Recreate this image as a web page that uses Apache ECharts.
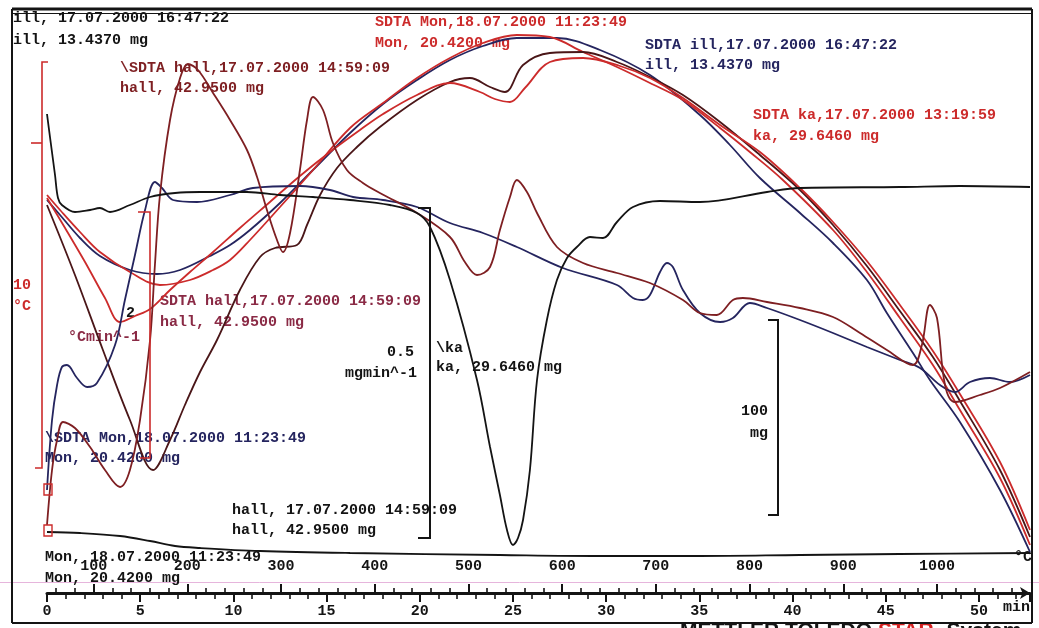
<!DOCTYPE html>
<html><head><meta charset="utf-8">
<script src="https://cdn.jsdelivr.net/npm/echarts@6/dist/echarts.min.js"></script>
<style>html,body{margin:0;padding:0;background:#fff;overflow:hidden}#c{width:1039px;height:628px}</style>
</head><body><div id="c"></div>
<script>
// x: time in minutes; y: signal height in arbitrary plot units (no numeric y axis in source)
const minuteLabels = [0,5,10,15,20,25,30,35,40,45,50];
const tempLabels = [100,200,300,400,500,600,700,800,900,1000];
const tempMinorTicks = [60,80,120,140,160,180,220,240,260,280,320,340,360,380,420,440,460,480,520,540,560,580,620,640,660,680,720,740,760,780,820,840,860,880,920,940,960,980,1020,1040,1060,1080];

const sdtaMon = [[0,39.8],[0.7,38.3],[1.77,36.1],[2.84,34.1],[4.45,32.1],[6.06,30.8],[7.67,31.3],[8.91,32.3],[9.82,33.3],[10.89,35.3],[12.5,38.6],[14.27,42.3],[16.26,46.5],[18.03,49.0],[19.85,51.5],[21.62,53.5],[23.39,55.0],[25.21,55.8],[26.98,55.6],[28.76,54.1],[30.58,52.6],[32.35,51.0],[34.12,49.3],[36.11,46.5],[37.71,44.1],[39.48,41.3],[42.17,36.3],[43.99,32.1],[45.76,27.5],[47.53,22.8],[48.98,18.3],[51.13,11.5],[52.74,4.8]];
const sdtaIll = [[0,39.3],[0.7,37.8],[1.77,35.5],[2.84,33.7],[4.45,32.3],[5.9,31.9],[7.14,32.3],[8.74,33.7],[9.82,34.8],[10.89,36.3],[12.5,39.0],[14.27,42.3],[16.26,46.0],[18.03,48.9],[19.85,51.3],[21.62,53.3],[23.39,54.7],[25.21,55.5],[27.36,55.5],[29.67,54.3],[32.35,51.8],[35.03,47.8],[36.64,44.8],[38.25,41.5],[40.4,38.0],[42.17,35.0],[43.99,31.3],[45.06,28.0],[46.46,24.0],[47.37,21.3],[48.98,17.1],[51.13,10.3],[52.74,4.1]];
const sdtaHall = [[0,38.8],[1.5,31.8],[3.0,24.3],[4.45,17.3],[5.69,12.3],[6.6,15.3],[7.4,18.8],[8.21,22.1],[9.12,25.3],[10.35,30.3],[11.43,33.6],[12.23,34.5],[13.41,34.8],[13.95,36.8],[14.65,39.8],[15.56,42.5],[16.63,44.6],[17.86,46.6],[19.85,49.3],[21.62,51.1],[22.69,51.5],[23.77,50.6],[24.57,50.1],[25.54,52.8],[26.98,54.0],[28.76,54.1],[30.58,53.1],[32.35,51.6],[34.12,49.8],[36.11,47.1],[38.25,43.8],[40.4,40.3],[42.17,36.8],[43.99,32.7],[45.76,28.2],[47.53,23.6],[48.98,19.2],[51.13,12.3],[52.74,5.6]];
const sdtaKa = [[0,39.5],[0.97,36.5],[2.04,33.1],[3.11,29.5],[3.92,27.1],[4.72,27.7],[5.53,28.4],[6.6,30.3],[7.67,32.1],[8.91,34.1],[10.35,36.5],[11.96,39.1],[13.57,41.7],[15.18,44.1],[16.79,46.3],[18.03,47.9],[19.85,49.8],[21.62,51.0],[23.23,50.1],[24.03,49.4],[24.84,49.1],[25.64,50.5],[26.98,53.1],[28.76,53.5],[30.74,52.7],[32.35,51.5],[34.12,49.5],[36.11,46.8],[38.25,44.1],[40.4,40.5],[42.17,37.1],[43.99,33.2],[45.76,28.8],[47.53,24.2],[48.98,19.9],[51.13,13.1],[52.74,6.3]];
const dtgHall = [[0,6.8],[0.27,12.3],[0.54,15.3],[0.86,17.1],[1.5,16.5],[2.31,14.6],[3.11,12.3],[3.92,10.6],[4.45,12.3],[4.99,17.3],[5.53,25.3],[5.79,32.8],[6.06,39.8],[6.6,47.3],[7.14,51.5],[7.56,52.9],[8.1,52.3],[8.91,50.0],[9.82,47.3],[10.73,44.3],[11.27,41.6],[11.8,38.3],[12.34,35.3],[12.66,34.1],[13.04,36.0],[13.57,42.3],[13.95,47.3],[14.27,49.6],[14.81,48.3],[15.34,45.0],[16.09,42.3],[16.95,41.0],[17.86,40.0],[19.85,38.0],[21.62,35.6],[22.42,33.1],[23.07,31.8],[23.77,32.6],[24.3,36.3],[24.84,39.6],[25.21,41.3],[25.75,40.1],[26.29,38.0],[27.36,34.6],[28.76,33.0],[30.58,32.0],[32.35,31.0],[34.12,29.3],[35.03,28.0],[35.94,27.8],[36.8,29.3],[37.34,29.5],[38.63,29.1],[40.4,28.5],[42.17,27.6],[43.62,26.0],[45.06,24.3],[46.46,22.8],[46.94,24.8],[47.37,28.8],[47.75,27.5],[48.18,20.8],[48.71,19.1],[50.05,19.8],[51.13,20.5],[52.74,22.1]];
const dtgIll = [[0,10.3],[0.27,17.3],[0.54,20.8],[0.8,22.6],[1.07,22.8],[1.61,21.5],[2.15,20.6],[2.68,21.0],[3.65,24.8],[4.18,29.3],[4.72,33.8],[5.26,38.3],[5.79,41.1],[6.17,40.5],[6.76,39.3],[8.05,39.1],[9.82,39.8],[11.05,40.5],[13.57,40.7],[15.18,40.3],[16.42,39.6],[18.03,39.3],[19.85,38.6],[21.62,37.0],[23.39,36.0],[25.21,34.6],[27.68,32.5],[30.58,30.8],[31.44,29.5],[31.97,29.3],[32.35,29.8],[32.89,32.1],[33.26,33.0],[33.58,32.6],[34.12,30.3],[35.03,28.0],[36.11,27.1],[36.8,27.5],[37.71,29.0],[38.63,28.5],[40.4,27.3],[42.17,26.0],[43.99,24.6],[45.76,23.3],[46.84,22.5],[47.91,20.8],[48.71,20.1],[49.52,21.1],[50.59,21.5],[51.66,21.1],[52.74,21.8]];
const dtgKa = [[0,47.9],[0.16,45.6],[0.43,41.8],[0.59,39.5],[0.8,38.8],[1.5,38.1],[2.31,38.3],[2.84,38.5],[3.38,38.1],[4.45,38.8],[5.53,39.6],[6.87,40.0],[8.21,40.1],[10.73,40.1],[12.5,39.8],[14.27,39.6],[16.26,39.3],[18.4,38.8],[19.85,38.0],[20.55,36.6],[21.62,31.3],[23.07,21.3],[23.77,14.6],[24.3,9.8],[24.68,6.3],[25.0,4.8],[25.27,5.5],[25.54,7.3],[25.91,12.3],[26.29,21.3],[26.82,27.3],[27.36,31.3],[27.9,33.5],[28.43,34.6],[29.13,35.6],[29.83,35.5],[30.58,37.1],[31.44,38.6],[32.89,39.2],[35.03,39.1],[38.63,40.1],[40.4,40.5],[45.76,40.6],[48.98,40.7],[52.74,40.6]];
const tgMon = [[0,6.1],[1.77,6.0],[3.92,5.7],[5.53,5.2],[6.87,4.7],[8.21,4.5],[11.43,4.2],[16.26,4.0],[24.3,3.8],[29.67,3.7],[35.03,3.7],[40.4,3.8],[45.76,3.9],[52.74,4.0]];

const RED = '#cc2b2b', MAROON = '#7e1f22', DARK = '#4a1618', NAVY = '#25255f', BLACK = '#141414';
const FONT = 'bold 15px "Liberation Mono", monospace';

function line(name, data, color, w) {
  return { name, type: 'line', data, smooth: 0.35, showSymbol: false, xAxisIndex: 0, yAxisIndex: 0,
    lineStyle: { color, width: w || 1.8 }, itemStyle: { color }, silent: true, z: 3 };
}
function txt(x, y, s, fill, align) {
  return { type: 'text', x, y, z: 2, style: { text: s, fill, font: FONT, verticalAlign: 'middle', align: align || 'left' } };
}
function pl(points, stroke, w) {
  return { type: 'polyline', z: 4, shape: { points }, style: { stroke, lineWidth: w || 2, fill: null } };
}

const chart = echarts.init(document.getElementById('c'), null, { renderer: 'canvas' });
chart.setOption({
  animation: false,
  backgroundColor: '#ffffff',
  grid: { left: 47, right: 9, top: 12, bottom: 35, containLabel: false },
  xAxis: [
    { type: 'value', min: 0, max: 52.74, interval: 5, position: 'bottom',
      axisLine: { show: true, lineStyle: { color: BLACK, width: 3 }, symbol: ['none', 'arrow'], symbolSize: [9, 10] },
      axisTick: { show: true, length: 9, lineStyle: { color: BLACK, width: 2 } },
      minorTick: { show: true, splitNumber: 5, length: 6, lineStyle: { color: BLACK, width: 1.6 } },
      axisLabel: { color: BLACK, fontFamily: 'Liberation Mono', fontWeight: 'bold', fontSize: 15, margin: 11,
        customValues: minuteLabels, formatter: v => String(v) },
      splitLine: { show: false }, minorSplitLine: { show: false } },
    { type: 'value', min: 50.2, max: 1099.3, position: 'bottom', offset: 0,
      axisLine: { show: false },
      axisTick: { show: true, inside: true, length: 9, customValues: tempLabels, lineStyle: { color: BLACK, width: 2 } },
      axisLabel: { show: true, inside: true, margin: 19, customValues: tempLabels, color: BLACK,
        fontFamily: 'Liberation Mono', fontWeight: 'bold', fontSize: 15, formatter: v => String(v) },
      splitLine: { show: false } },
    { type: 'value', min: 50.2, max: 1099.3, position: 'bottom', offset: 0,
      axisLine: { show: false },
      axisTick: { show: true, inside: true, length: 5, customValues: tempMinorTicks, lineStyle: { color: BLACK, width: 1.6 } },
      axisLabel: { show: false }, splitLine: { show: false } }
  ],
  yAxis: { type: 'value', min: 0, max: 58.1, show: false, splitLine: { show: false } },
  series: [
    line('tg Mon', tgMon, BLACK, 1.8),
    line('SDTA ill', sdtaIll, NAVY),
    line('SDTA Mon', sdtaMon, RED),
    line('SDTA hall', sdtaHall, DARK),
    line('SDTA ka', sdtaKa, RED),
    line('DTG ill', dtgIll, NAVY),
    line('DTG hall', dtgHall, MAROON),
    line('DTG ka', dtgKa, BLACK)
  ],
  graphic: [
    // frame
    pl([[12, 9], [1032, 9]], BLACK, 3),
    pl([[12, 13.5], [1032, 13.5]], BLACK, 1),
    pl([[12, 9], [12, 623]], BLACK, 2),
    pl([[1032, 9], [1032, 623]], BLACK, 2),
    pl([[12, 623], [1032, 623]], BLACK, 2),
    { type: 'line', z: 1, shape: { x1: 0, y1: 582.5, x2: 1039, y2: 582.5 }, style: { stroke: '#e6b5dc', lineWidth: 1 } },
    // scale bars
    pl([[48, 62], [42, 62], [42, 468], [35, 468]], RED, 1.6),
    pl([[31, 143], [42, 143]], RED, 1.6),
    pl([[138, 212], [150, 212], [150, 458], [140, 458]], RED, 1.6),
    pl([[418, 208], [430, 208], [430, 538], [418, 538]], BLACK, 2),
    pl([[768, 320], [778, 320], [778, 515], [768, 515]], BLACK, 2),
    { type: 'rect', z: 4, shape: { x: 44, y: 484, width: 8, height: 11 }, style: { stroke: RED, fill: null, lineWidth: 1.4 } },
    { type: 'rect', z: 4, shape: { x: 44, y: 525, width: 8, height: 11 }, style: { stroke: RED, fill: null, lineWidth: 1.4 } },
    // texts
    txt(13, 18, 'ill, 17.07.2000 16:47:22', BLACK),
    txt(13, 40, 'ill, 13.4370 mg', BLACK),
    txt(120, 68, '\\SDTA hall,17.07.2000 14:59:09', MAROON),
    txt(120, 88, 'hall, 42.9500 mg', MAROON),
    txt(375, 22, 'SDTA Mon,18.07.2000 11:23:49', RED),
    txt(375, 43, 'Mon, 20.4200 mg', RED),
    txt(645, 45, 'SDTA ill,17.07.2000 16:47:22', NAVY),
    txt(645, 65, 'ill, 13.4370 mg', NAVY),
    txt(753, 115, 'SDTA ka,17.07.2000 13:19:59', RED),
    txt(753, 136, 'ka, 29.6460 mg', RED),
    txt(160, 301, 'SDTA hall,17.07.2000 14:59:09', '#8a2a45'),
    txt(160, 322, 'hall, 42.9500 mg', '#8a2a45'),
    txt(13, 285, '10', RED),
    txt(13, 306, '°C', RED),
    txt(126, 313, '2', BLACK),
    txt(68, 337, '°Cmin^-1', '#8a2a45'),
    txt(414, 352, '0.5', BLACK, 'right'),
    txt(417, 373, 'mgmin^-1', BLACK, 'right'),
    txt(436, 348, '\\ka', BLACK),
    txt(436, 367, 'ka, 29.6460 mg', BLACK),
    txt(768, 411, '100', BLACK, 'right'),
    txt(768, 433, 'mg', BLACK, 'right'),
    txt(45, 438, '\\SDTA Mon,18.07.2000 11:23:49', NAVY),
    txt(45, 458, 'Mon, 20.4200 mg', NAVY),
    txt(232, 510, 'hall, 17.07.2000 14:59:09', BLACK),
    txt(232, 530, 'hall, 42.9500 mg', BLACK),
    txt(45, 557, 'Mon, 18.07.2000 11:23:49', BLACK),
    txt(45, 578, 'Mon, 20.4200 mg', BLACK),
    txt(1014, 557, '°C', BLACK),
    txt(1003, 607, 'min', BLACK),
    { type: 'text', x: 680, y: 621, z: 2, style: {
        text: '{a|METTLER TOLEDO }{b|STAR}{c|e}{a| System}', verticalAlign: 'top',
        rich: { a: { fill: BLACK, font: 'bold 21px "Liberation Sans", sans-serif' },
                b: { fill: '#d42020', font: 'bold 21px "Liberation Sans", sans-serif' },
                c: { fill: '#d42020', font: 'bold 13px "Liberation Sans", sans-serif' } } } }
  ]
});
</script>
</body></html>
